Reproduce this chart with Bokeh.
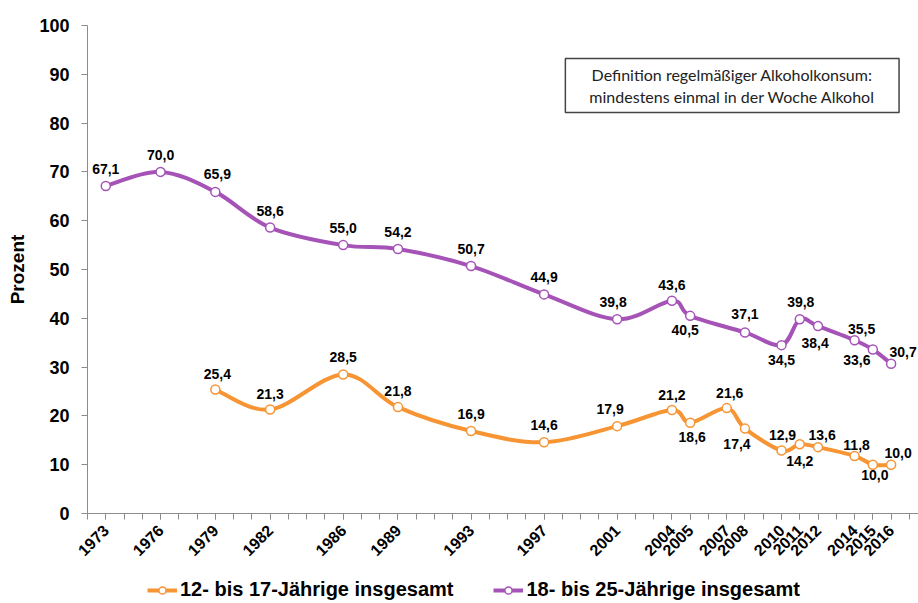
import math
from bokeh.plotting import figure
from bokeh.layouts import column
from bokeh.models import (FixedTicker, Range1d, Legend, LegendItem, Label,
                          ColumnDataSource)
from bokeh.core.properties import value
from bokeh.embed import file_html
from bokeh.resources import INLINE

# ---------------- data ----------------
years_1825 = [1973, 1976, 1979, 1982, 1986, 1989, 1993, 1997, 2001, 2004, 2005,
              2008, 2010, 2011, 2012, 2014, 2015, 2016]
vals_1825 = [67.1, 70.0, 65.9, 58.6, 55.0, 54.2, 50.7, 44.9, 39.8, 43.6, 40.5,
             37.1, 34.5, 39.8, 38.4, 35.5, 33.6, 30.7]
years_1217 = [1979, 1982, 1986, 1989, 1993, 1997, 2001, 2004, 2005, 2007, 2008,
              2010, 2011, 2012, 2014, 2015, 2016]
vals_1217 = [25.4, 21.3, 28.5, 21.8, 16.9, 14.6, 17.9, 21.2, 18.6, 21.6, 17.4,
             12.9, 14.2, 13.6, 11.8, 10.0, 10.0]
tick_years = [1973, 1976, 1979, 1982, 1986, 1989, 1993, 1997, 2001, 2004, 2005,
              2007, 2008, 2010, 2011, 2012, 2014, 2015, 2016]
y_ticks = [0, 10, 20, 30, 40, 50, 60, 70, 80, 90, 100]
name_1217 = "12- bis 17-Jährige insgesamt"
name_1825 = "18- bis 25-Jährige insgesamt"
note_text = "Definition regelmäßiger Alkoholkonsum:\nmindestens einmal in der Woche Alkohol"

# label offsets (style, screen px: dx right, dy down)
off_1825 = [(0, -17), (0, -17), (2, -18), (0, -17), (0, -17), (0, -17), (0, -17),
            (0, -17), (-4, -17), (0, -16), (-5, 14), (0, -18), (0, 15), (1, -17),
            (-3, 17), (7, -11), (-16, 10), (12, -12)]
off_1217 = [(2, -16), (0, -16), (0, -17), (0, -16), (0, -17), (0, -17), (-7, -17),
            (0, -15), (2, 14), (3, -15), (-8, 15), (1, -16), (0, 17), (4, -12),
            (2, -11), (2, 10), (7, -12)]

PURPLE = "#A653B8"
ORANGE = "#F79433"
FONT = "Liberation Sans"

p = figure(frame_width=831, frame_height=488, output_backend="svg",
           toolbar_location=None,
           x_range=Range1d(1972, 2017.5), y_range=Range1d(0, 100),
           min_border_left=87, min_border_right=0, min_border_top=25,
           min_border_bottom=62)
p.outline_line_color = None
p.xgrid.visible = False
p.ygrid.visible = False
p.background_fill_color = "white"

# axes
p.yaxis.ticker = FixedTicker(ticks=y_ticks)
p.yaxis.axis_label = "Prozent"
p.yaxis.axis_label_text_font = FONT
p.yaxis.axis_label_text_font_style = "bold"
p.yaxis.axis_label_text_font_size = "19px"
p.yaxis.axis_label_text_color = "black"
p.yaxis.axis_label_standoff = 8
p.yaxis.major_label_text_font = FONT
p.yaxis.major_label_text_font_style = "bold"
p.yaxis.major_label_text_font_size = "18px"
p.yaxis.major_label_text_color = "black"
p.yaxis.major_tick_out = 6
p.yaxis.major_tick_in = 0
p.yaxis.minor_tick_out = 0
p.yaxis.minor_tick_in = 0
p.yaxis.axis_line_color = "#8C8C8C"
p.yaxis.major_tick_line_color = "#8C8C8C"
p.yaxis.major_label_standoff = 12

p.xaxis.ticker = FixedTicker(ticks=tick_years, minor_ticks=list(range(1972, 2018)))
p.xaxis.major_label_orientation = math.pi / 4
p.xaxis.major_label_text_font = FONT
p.xaxis.major_label_text_font_style = "bold"
p.xaxis.major_label_text_font_size = "16px"
p.xaxis.major_label_text_color = "black"
p.xaxis.major_tick_out = 6
p.xaxis.major_tick_in = 0
p.xaxis.minor_tick_out = 6
p.xaxis.minor_tick_in = 0
p.xaxis.axis_line_color = "#8C8C8C"
p.xaxis.major_tick_line_color = "#8C8C8C"
p.xaxis.minor_tick_line_color = "#8C8C8C"
p.xaxis.major_label_standoff = 8


def smooth_segments(xs, ys, t=1.0 / 6.0):
    n = len(xs)
    d = dict(x0=[], y0=[], x1=[], y1=[], cx0=[], cy0=[], cx1=[], cy1=[])
    for i in range(n - 1):
        a = max(i - 1, 0)
        b = min(i + 2, n - 1)
        d["x0"].append(xs[i]); d["y0"].append(ys[i])
        d["x1"].append(xs[i + 1]); d["y1"].append(ys[i + 1])
        d["cx0"].append(xs[i] + (xs[i + 1] - xs[a]) * t)
        d["cy0"].append(ys[i] + (ys[i + 1] - ys[a]) * t)
        d["cx1"].append(xs[i + 1] - (xs[b] - xs[i]) * t)
        d["cy1"].append(ys[i + 1] - (ys[b] - ys[i]) * t)
    return ColumnDataSource(d)


def series(xs, ys, color, offs):
    p.bezier(x0="x0", y0="y0", x1="x1", y1="y1", cx0="cx0", cy0="cy0",
             cx1="cx1", cy1="cy1", source=smooth_segments(xs, ys),
             line_color=color, line_width=4, line_cap="round")
    p.scatter(xs, ys, size=9, marker="circle", fill_color="white",
              line_color=color, line_width=1.5)
    labels = [("%.1f" % v).replace(".", ",") for v in ys]
    src = ColumnDataSource(dict(x=xs, y=ys, t=labels,
                                dx=[o[0] for o in offs], dy=[o[1] for o in offs]))
    p.text(x="x", y="y", text="t", x_offset="dx", y_offset="dy", source=src,
           text_font=value(FONT), text_font_style="bold", text_font_size="14px",
           text_color="black", text_align="center", text_baseline="middle")


series(years_1825, vals_1825, PURPLE, off_1825)
series(years_1217, vals_1217, ORANGE, off_1217)

note = Label(x=2007.3, y=87.7, text=note_text, text_align="center",
             text_baseline="middle", text_font="Lato", text_font_size="16px",
             text_color="#222222",
             border_line_color="#444444", border_line_width=1.5,
             background_fill_color="white",
             padding=dict(left=24, right=24, top=6, bottom=6))
p.add_layout(note)

# ---- legend strip: same series drawn outside its visible range, only the
# legend is seen ----
lg = figure(width=918, height=28, output_backend="svg", toolbar_location=None,
            x_range=Range1d(0, 1), y_range=Range1d(0, 1),
            x_axis_type=None, y_axis_type=None,
            min_border_left=0, min_border_right=0, min_border_top=0,
            min_border_bottom=0)
lg.outline_line_color = None
lg.xgrid.visible = False
lg.ygrid.visible = False


def legend_glyphs(xs, ys, color):
    ln = lg.line(xs, ys, line_color=color, line_width=4)
    mk = lg.scatter(xs, ys, size=9, marker="circle", fill_color="white",
                    line_color=color, line_width=1.5)
    return [ln, mk]


legend = Legend(items=[LegendItem(label=name_1217,
                                  renderers=legend_glyphs(years_1217, vals_1217, ORANGE)),
                       LegendItem(label=name_1825,
                                  renderers=legend_glyphs(years_1825, vals_1825, PURPLE))],
                orientation="horizontal", location=(60, 2),
                label_text_font=FONT, label_text_font_style="bold",
                label_text_font_size="20px", label_text_color="black",
                glyph_width=30, glyph_height=18, label_standoff=3, spacing=40,
                padding=0, margin=0, border_line_color=None,
                background_fill_alpha=0)
lg.add_layout(legend, "center")

layout = column(p, lg, spacing=0)
open("out.html", "w").write(file_html(layout, INLINE))
